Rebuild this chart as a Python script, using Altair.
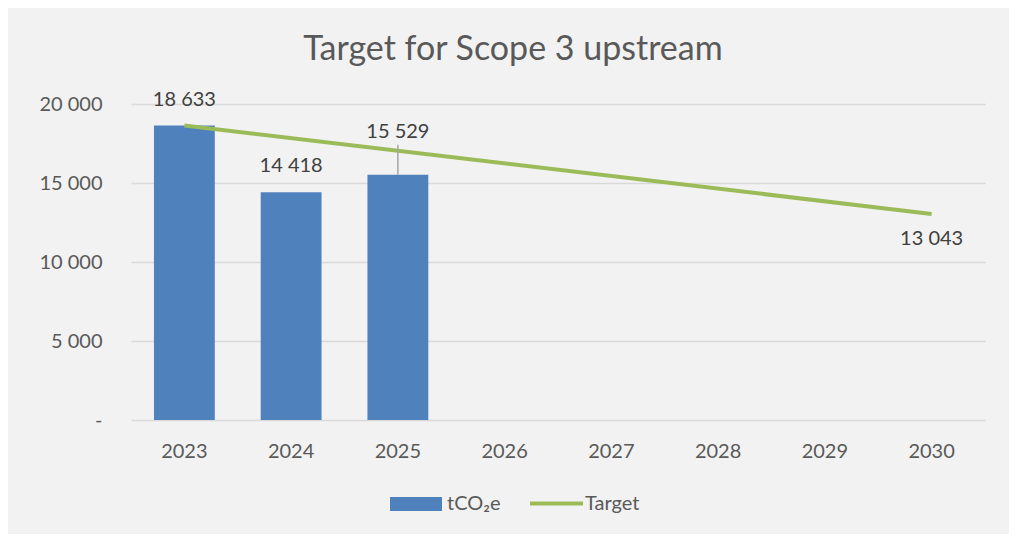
import altair as alt
import pandas as pd

years = ["2023", "2024", "2025", "2026", "2027", "2028", "2029", "2030"]
bar_years = ["2023", "2024", "2025"]
bar_values = [18633, 14418, 15529]
target_years = ["2023", "2030"]
target_values = [18633, 13043]
bar_series = "tCO₂e"
line_series = "Target"
y_ticks = [0, 5000, 10000, 15000, 20000]

FONT = "Lato"
TXT = "#404040"
AX = "#595959"
BLUE = "#4f81bd"
GREEN = "#9bbb59"
FS = 20

bars_df = pd.DataFrame({"year": bar_years, "value": bar_values, "series": [bar_series] * len(bar_years)})
line_df = pd.DataFrame({"year": target_years, "value": target_values, "series": [line_series] * len(target_years)})

x = alt.X("year:N", scale=alt.Scale(domain=years, paddingInner=0.43, paddingOuter=0.215),
          axis=alt.Axis(title=None, labelAngle=0, labelFontSize=FS, labelColor=AX, labelFont=FONT,
                        labelPadding=21, ticks=False, domain=False))
y = alt.Y("value:Q", scale=alt.Scale(domain=[0, 20000], nice=False),
          axis=alt.Axis(title=None, values=y_ticks, labelFontSize=FS, labelColor=AX, labelFont=FONT,
                        labelPadding=29, ticks=False, domain=False, gridColor="#d9d9d9", gridWidth=1.5,
                        labelExpr="datum.value == 0 ? '-\u00a0\u00a0\u00a0' : replace(format(datum.value, ','), ',', ' ')"))

bars = alt.Chart(bars_df).mark_bar(color=BLUE).encode(
    x=x, y=y,
    color=alt.Color("series:N", scale=alt.Scale(domain=[bar_series], range=[BLUE]),
                    legend=alt.Legend(title=None, orient="none", legendX=259, legendY=374,
                                      symbolType="M-1,-0.27H1V0.27H-1Z", symbolSize=2704,
                                      symbolStrokeWidth=0, symbolOpacity=1,
                                      labelFontSize=FS, labelColor=AX, labelFont=FONT, labelOffset=5)),
)

line = alt.Chart(line_df).mark_line(strokeWidth=4).encode(
    x=x, y=y,
    stroke=alt.Stroke("series:N", scale=alt.Scale(domain=[line_series], range=[GREEN]),
                      legend=alt.Legend(title=None, orient="none", legendX=397, legendY=371,
                                        symbolType="stroke", symbolSize=2809, symbolStrokeWidth=4,
                                        labelFontSize=FS, labelColor=AX, labelFont=FONT, labelOffset=0)),
)

fmt = "replace(format(datum.value, ','), ',', ' ')"

labels_low = alt.Chart(bars_df).transform_filter("datum.year != '2025'").transform_calculate(
    lbl=fmt).mark_text(fontSize=FS, color=TXT, font=FONT, dy=-26, baseline="middle").encode(
    x=x, y=y, text="lbl:N")

label_2025 = alt.Chart(bars_df).transform_filter("datum.year == '2025'").transform_calculate(
    lbl=fmt).mark_text(fontSize=FS, color=TXT, font=FONT, dy=-43, baseline="middle").encode(
    x=x, y=y, text="lbl:N")

leader = alt.Chart(bars_df).transform_filter("datum.year == '2025'").mark_rule(
    color="#a6a6a6", strokeWidth=1.5, y2Offset=-30).encode(x=x, y=y, y2="value:Q")

label_2030 = alt.Chart(line_df).transform_filter("datum.year == '2030'").transform_calculate(
    lbl=fmt).mark_text(fontSize=FS, color=TXT, font=FONT, dy=25, baseline="middle").encode(
    x=x, y=y, text="lbl:N")

chart = alt.layer(bars, line, leader, labels_low, label_2025, label_2030).properties(
    width=854, height=316,
    autosize=alt.AutoSizeParams(type="none"),
    padding={"left": 123, "top": 96, "right": 24, "bottom": 114},
    background="#f2f2f2",
    title=alt.TitleParams("Target for Scope 3 upstream", fontSize=34, font=FONT, color=AX,
                          fontWeight="normal", anchor="middle", dx=-45, offset=23),
).configure_view(stroke=None)

chart.save("out.html", embed_options={"renderer": "svg", "actions": False})
